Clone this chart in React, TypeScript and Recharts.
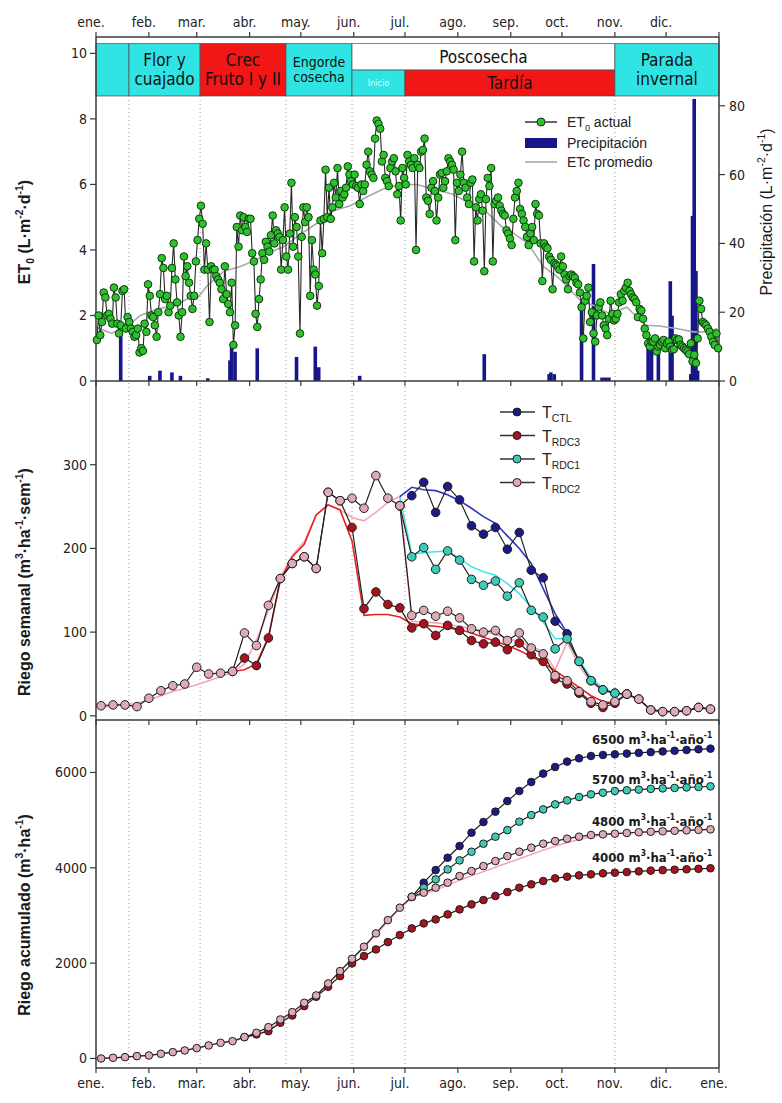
import { Bar, ComposedChart, Legend, Line, ReferenceArea, ReferenceDot, ReferenceLine, XAxis, YAxis } from "recharts"

const W = 782
const H = 1103
const NARROW = '"Liberation Sans Narrow", "Arial Narrow", "DejaVu Sans Condensed", "Liberation Sans", sans-serif'
const SANS = '"Liberation Sans", Arial, sans-serif'

const monthTicks = [0, 31, 59, 90, 120, 151, 181, 212, 243, 273, 304, 334, 365]
const monthNames = ["ene.", "feb.", "mar.", "abr.", "may.", "jun.", "jul.", "ago.", "sep.", "oct.", "nov.", "dic.", "ene."]

// phenological phases (day of year)
const phaseFrom = [0, 19.3, 61, 111.3, 150, 150, 181, 304]
const phaseTo = [19.3, 61, 111.3, 150, 304, 181, 304, 365]
const phaseName = ["", "Flor y|cuajado", "Crec|Fruto I y II", "Engorde|cosecha", "Poscosecha", "Inicio", "Tardía", "Parada|invernal"]
const phaseRow = ["full", "full", "full", "full", "top", "bottom", "bottom", "full"]
const phaseBreaks = [19.3, 61, 111.3, 150, 181, 304]

// ET0 actual, one value per day (L m-2 d-1)
const et0Daily = [
  1.25, 2.0, 1.4, 1.8, 2.7, 2.55, 2.0, 2.05, 1.9, 1.75,
  2.85, 2.55, 1.75, 1.45, 1.7, 2.75, 2.8, 1.6, 1.95, 1.8,
  1.6, 1.5, 1.35, 1.4, 1.6, 0.87, 1.0, 0.92, 1.75, 1.5,
  2.95, 2.6, 2.0, 1.95, 1.7, 1.35, 2.1, 2.65, 3.75, 3.45,
  2.5, 2.6, 2.1, 2.3, 3.45, 4.2, 3.1, 2.4, 2.0, 1.35,
  2.1, 3.8, 3.2, 3.5, 3.0, 2.6, 2.2, 2.6, 3.65, 4.3,
  4.95, 5.35, 4.8, 3.4, 4.2, 3.4, 1.8, 3.5, 3.4, 3.4,
  3.2, 3.1, 3.0, 2.8, 2.5, 3.5, 2.65, 2.35, 2.1, 3.0,
  1.1, 1.7, 4.7, 4.1, 5.05, 4.6, 5.0, 4.7, 4.55, 4.95,
  4.95, 3.9, 3.65, 2.05, 1.65, 2.5, 3.1, 3.9, 3.7, 4.25,
  4.1, 3.95, 4.45, 5.05, 4.2, 4.6, 4.5, 4.4, 3.4, 4.3,
  5.3, 3.8, 3.4, 4.5, 6.05, 4.1, 5.0, 4.7, 3.8, 1.45,
  4.4, 5.3, 4.85, 5.3, 5.0, 2.6, 4.3, 3.4, 3.25, 2.3,
  2.9, 4.9, 3.9, 4.95, 6.45, 5.0, 5.9, 4.95, 5.3, 6.05,
  5.6, 6.5, 5.4, 5.8, 5.6, 5.7, 5.9, 6.55, 6.3, 6.1,
  6.0, 6.3, 5.95, 5.9, 5.4, 6.0, 5.8, 6.0, 6.6, 7.0,
  6.4, 6.3, 6.2, 7.4, 7.95, 7.85, 7.7, 6.7, 6.9, 6.2,
  6.1, 5.95, 6.5, 6.7, 6.8, 6.4, 5.7, 5.95, 4.9, 6.5,
  6.2, 6.0, 6.9, 6.7, 6.6, 6.5, 6.8, 4.0, 6.6, 6.5,
  7.0, 7.05, 7.4, 5.6, 5.5, 5.1, 5.9, 6.1, 5.8, 4.9,
  5.6, 6.3, 6.35, 5.9, 6.1, 6.4, 6.8, 6.7, 6.6, 6.45,
  4.3, 6.05, 5.8, 6.3, 7.0, 6.05, 5.9, 5.6, 5.4, 6.05,
  6.15, 3.65, 5.3, 4.9, 5.55, 5.7, 5.2, 3.35, 5.55, 6.2,
  5.95, 6.5, 3.65, 5.4, 5.5, 5.6, 5.35, 5.2, 5.1, 5.05,
  4.6, 4.5, 4.35, 4.15, 4.95, 5.6, 5.8, 6.05, 5.25, 5.1,
  4.9, 4.7, 4.4, 4.15, 4.5, 4.7, 4.3, 5.4, 5.1, 5.05,
  4.2, 3.05, 4.2, 4.1, 4.05, 3.8, 3.7, 2.8, 3.6, 3.55,
  3.5, 3.4, 3.8, 3.5, 3.25, 3.1, 2.8, 3.2, 3.25, 3.2,
  3.15, 3.0, 2.95, 2.7, 2.25, 1.3, 2.45, 2.6, 2.85, 1.8,
  2.1, 1.45, 1.2, 2.0, 2.25, 2.4, 2.0, 1.7, 1.6, 1.4,
  1.9, 2.45, 2.05, 1.85, 1.9, 2.05, 2.4, 2.65, 2.45, 2.75,
  2.85, 3.0, 2.75, 2.65, 2.55, 2.5, 2.4, 1.95, 2.2, 2.15,
  1.9, 1.6, 1.4, 1.15, 1.05, 1.2, 1.2, 1.3, 0.9, 1.05,
  1.1, 1.2, 1.25, 1.0, 1.15, 1.2, 1.05, 0.95, 0.97, 1.3,
  1.25, 1.27, 1.1, 1.05, 1.0, 0.95, 0.9, 0.82, 1.15, 0.6,
  0.8, 0.55, 1.3, 2.45, 2.2, 1.8, 1.75, 1.7, 1.6, 1.5,
  1.35, 1.2, 1.1, 1.45, 1.0,
]

// ETc promedio
const etcDay = [0, 9, 15, 21, 26, 36, 46, 55, 59, 65, 75, 85, 94, 100, 110, 119, 129, 139, 149, 158, 168, 178, 188, 198, 209, 218, 228, 238, 245, 253, 262, 271, 284, 292, 301, 311, 322, 330, 340, 350, 358, 364]
const etcValue = [1.65, 1.45, 1.6, 1.78, 2.0, 2.2, 2.3, 2.55, 2.5, 2.9, 3.35, 3.5, 3.7, 3.9, 4.1, 4.45, 4.8, 5.2, 5.35, 5.6, 5.85, 6.0, 6.0, 5.85, 5.7, 5.45, 5.2, 4.7, 4.5, 4.2, 3.5, 3.15, 2.45, 2.3, 2.05, 2.25, 1.7, 1.68, 1.6, 1.5, 1.5, 1.6]

// Precipitación (L m-2 d-1)
const rainDay = [14, 31, 37, 44, 49, 65, 78, 79, 81, 94, 117, 128, 130, 154, 227, 265, 266, 268, 284, 291, 296, 298, 300, 323, 325, 329, 336, 337, 348, 349, 350, 351, 352]
const rainValue = [14, 1.5, 3, 2.5, 1.5, 0.8, 6, 10, 8.5, 9.5, 7, 10, 4, 1.5, 7.8, 2, 2.5, 2, 23, 34, 1, 1, 1, 11, 9, 10, 29, 19, 2, 48, 82, 32, 3]

// Riego semanal (m3 ha-1 sem-1), 52 weeks
const semCtl = [null, null, null, null, null, null, null, null, null, null, null, null, null, null, null, null, null, null, null, null, null, null, null, null, null,
  251, 263, 279, 243, 274, 258, 227, 217, 225, 199, 219, 174, 165, 113, 98, 65, 42, 31, 27, 26,
  null, null, null, null, null, null, null]
const semRdc1 = [null, null, null, null, null, null, null, null, null, null, null, null, null, null, null, null, null, null, null, null, null, null, null, null, null,
  251, 190, 201, 175, 197, 186, 163, 156, 161, 143, 159, 126, 118, 80, 92, 65, 42, 31, 27, 26,
  null, null, null, null, null, null, null]
const semRdc3 = [null, null, null, null, null, null, null, null, null, null, null,
  53, 69, 60, 93, 164, 182, 190, 176, 267, 257, 225, 128, 148, 133, 129, 105, 110, 96, 108, 102,
  90, 86, 88, 79, 87, 73, 65, 44, 38, 27, 15, 10, 15, 26, 20, 7, 5, 5, 6, 10, 8]
const semRdc2 = [12, 13, 13, 11, 21, 30, 36, 38, 58, 50, 51, 53, 99, 84, 132, 164, 182, 190, 176, 267,
  257, 260, 248, 287, 260, 251, 120, 126, 119, 125, 117, 104, 100, 102, 90, 99, 81, 74, 48, 42,
  29, 17, 13, 17, 26, 20, 7, 5, 5, 6, 10, 8]
// programmed (thin) lines
const progRdc2 = [10, 12, 13, 15, 19, 24, 29, 33, 37, 42, 47, 52, 62, 90, 126, 165, 192, 208, 240, 252,
  246, 237, 233, 243, 255, 262, 113, 112, 111, 109, 107, 104, 101, 97, 93, 88, 83, 77, 55, 88,
  60, 40, 30, 26, 24, 19, 8, 6, 6, 7, 9, 8]
const progRdc3 = [null, null, null, null, null, null, null, null, null, null, null,
  53, 55, 62, 94, 162, 190, 205, 240, 252, 246, 209, 120, 121, 121, 118, 110, 108, 107, 105, 103,
  99, 94, 89, 84, 78, 71, 63, 54, 44, 34, 24, 17, 15,
  null, null, null, null, null, null, null, null]
const progRdc1 = [null, null, null, null, null, null, null, null, null, null, null, null, null, null, null, null, null, null, null, null, null, null, null, null, null,
  262, 193, 195, 196, 197, 188, 178, 172, 168, 158, 146, 130, 112, 92, 92, 66, 46, 33, 27,
  null, null, null, null, null, null, null, null]
const progCtl = [null, null, null, null, null, null, null, null, null, null, null, null, null, null, null, null, null, null, null, null, null, null, null, null, null,
  262, 273, 270, 269, 264, 257, 248, 238, 230, 215, 200, 182, 152, 122, 99,
  null, null, null, null, null, null, null, null, null, null, null, null]

// Riego acumulado (m3 ha-1)
const accRdc2 = [0, 14, 28, 49, 63, 98, 133, 168, 217, 273, 329, 364, 448, 539, 657, 818, 972, 1168, 1322, 1574,
  1833, 2092, 2344, 2623, 2903, 3163, 3390, 3478, 3582, 3687, 3826, 3931, 4036, 4141, 4246, 4337, 4421, 4505, 4561, 4610,
  4652, 4687, 4701, 4715, 4730, 4745, 4755, 4765, 4775, 4785, 4795, 4806]
const accRdc3 = [null, null, null, null, null, null, null, null, null, null, null, null,
  448, 504, 573, 749, 902, 1098, 1294, 1504, 1727, 1994, 2147, 2287, 2441, 2588, 2728, 2833, 2917, 3022, 3127, 3232,
  3323, 3407, 3491, 3582, 3652, 3722, 3778, 3813, 3841, 3862, 3883, 3897, 3910, 3925, 3940, 3950, 3960, 3968, 3978, 3990]
const accCtl = [null, null, null, null, null, null, null, null, null, null, null, null, null, null, null, null, null, null, null, null, null, null, null, null, null, null,
  3390, 3687, 3952, 4211, 4456, 4736, 4959, 5177, 5400, 5610, 5799, 5975, 6114, 6227, 6296, 6345, 6366, 6380, 6395, 6410,
  6425, 6440, 6455, 6470, 6485, 6499]
const accRdc1 = [null, null, null, null, null, null, null, null, null, null, null, null, null, null, null, null, null, null, null, null, null, null, null, null, null, null,
  3390, 3582, 3756, 3966, 4155, 4337, 4505, 4652, 4791, 4967, 5106, 5225, 5330, 5414, 5484, 5540, 5575, 5610, 5625, 5640,
  5655, 5665, 5675, 5685, 5695, 5708]
const accProg = [0, 14, 28, 49, 63, 98, 133, 168, 217, 273, 329, 364, 430, 500, 600, 760, 940, 1140, 1320, 1560,
  1820, 2080, 2330, 2600, 2880, 3140, 3380, 3450, 3540, 3630, 3740, 3830, 3920, 4010, 4100, 4190, 4280, 4370, 4450, 4530,
  4590, 4650, 4695, 4715, 4730, 4745, 4755, 4765, 4775, 4785, 4795, 4806]

const annualTotal = [6500, 5700, 4800, 4000]
const annualLabelY = [6685, 5845, 4964, 4209]

const dailyRows = et0Daily.map((v, i) => {
  const k = rainDay.indexOf(i)
  return { d: i + 0.5, et0: v, rain: k >= 0 ? rainValue[k] : null }
})
const etcRows = etcDay.map((d, i) => ({ d, etc: etcValue[i] }))
const weekRows = semRdc2.map((_, i) => ({
  d: 3 + 7 * i,
  ctl: semCtl[i], rdc1: semRdc1[i], rdc2: semRdc2[i], rdc3: semRdc3[i],
  p2: progRdc2[i], p3: progRdc3[i], p1: progRdc1[i], pc: progCtl[i],
  actl: accCtl[i], ardc1: accRdc1[i], ardc2: accRdc2[i], ardc3: accRdc3[i], aprog: accProg[i],
}))

const C = {
  cyan: "#30E4E4", red: "#F21616", green: "#2FC02F", navy: "#16168A", ctl: "#1A1A88",
  rdc3: "#A8121C", rdc1: "#3DCBB6", rdc2: "#DDAAB6", pink: "#F6A3B6", thinRed: "#E82222",
  thinCyan: "#45E6E6", thinBlue: "#3434C4", grid: "#9A9A9A", axis: "#3A3A3A",
}

const axisLine = { stroke: C.axis, strokeWidth: 1.5 }
const tickLine = { stroke: C.axis, strokeWidth: 1.2 }
const tickText = { fontSize: 14, fill: "#222", fontFamily: NARROW }
const monthTick = { ...tickText, dx: -5 }
const noLabel = () => ""
const monthLabel = (v: number) => monthNames[monthTicks.indexOf(v)] ?? ""

type Part = { t: string; k?: "sup" | "sub" }

function spans(parts: Part[], size: number) {
  let shift = 0
  return parts.map((p, i) => {
    const target = p.k === "sup" ? -size * 0.42 : p.k === "sub" ? size * 0.28 : 0
    const dy = target - shift
    shift = target
    return (
      <tspan key={i} dy={dy} fontSize={p.k ? size * 0.65 : size}>
        {p.t}
      </tspan>
    )
  })
}

function VTitle({ px, py, parts, size = 16, weight = "bold" }: { px: number; py: number; parts: Part[]; size?: number; weight?: string }) {
  return (
    <text x={px} y={py} transform={`rotate(-90 ${px} ${py})`} textAnchor="middle" fontFamily={SANS} fontWeight={weight} fontSize={size} fill="#1a1a1a">
      {spans(parts, size)}
    </text>
  )
}

function AnnualLabel(props: any) {
  const { viewBox, parts } = props
  if (!viewBox) return null
  return (
    <text x={viewBox.x - 4} y={viewBox.y + 5} textAnchor="end" fontFamily={NARROW} fontWeight="bold" fontSize={13} fill="#1a1a1a">
      {spans(parts, 13)}
    </text>
  )
}

function BandLabel(props: any) {
  const { viewBox, lines, size, color } = props
  if (!viewBox) return null
  const cx = viewBox.x + viewBox.width / 2
  const cy = viewBox.y + viewBox.height / 2
  const lh = size * 1.1
  const y0 = cy - ((lines.length - 1) * lh) / 2 + size * 0.35
  return (
    <text textAnchor="middle" fontFamily={NARROW} fontSize={size} fill={color}>
      {lines.map((l: string, i: number) => (
        <tspan key={i} x={cx} y={y0 + i * lh}>
          {l}
        </tspan>
      ))}
    </text>
  )
}

function RainBar(props: any) {
  const { x, y, width, height } = props
  if (!height || height <= 0) return null
  return <rect x={x + width / 2 - 1.8} y={y} width={3.6} height={height} fill={C.navy} />
}

const et0Title: Part[] = [{ t: "ET" }, { t: "0", k: "sub" }, { t: " (L·m" }, { t: "-2", k: "sup" }, { t: "·d" }, { t: "-1", k: "sup" }, { t: ")" }]
const rainTitle: Part[] = [{ t: "Precipitación (L·m" }, { t: "-2", k: "sup" }, { t: "·d" }, { t: "-1", k: "sup" }, { t: ")" }]
const semTitle: Part[] = [{ t: "Riego semanal (m" }, { t: "3", k: "sup" }, { t: "·ha" }, { t: "-1", k: "sup" }, { t: "·sem" }, { t: "-1", k: "sup" }, { t: ")" }]
const accTitle: Part[] = [{ t: "Riego acumulado (m" }, { t: "3", k: "sup" }, { t: "·ha" }, { t: "-1", k: "sup" }, { t: ")" }]

function phaseStyle(name: string) {
  if (name === "Poscosecha") return { fill: "#FFFFFF", text: "#111", size: 17 }
  if (name === "Inicio") return { fill: C.cyan, text: "#F4F4F4", size: 9 }
  if (name.startsWith("Crec") || name === "Tardía") return { fill: C.red, text: "#111", size: 17 }
  if (name.startsWith("Engorde")) return { fill: C.cyan, text: "#111", size: 14 }
  return { fill: C.cyan, text: "#111", size: 17 }
}

const rowY: Record<string, [number, number]> = { full: [8.7, 10.3], top: [9.49, 10.3], bottom: [8.7, 9.49] }

function TopLegend() {
  return (
    <svg width={200} height={64}>
      <line x1={5} x2={37} y1={12} y2={12} stroke="#333" strokeWidth={1.5} />
      <circle cx={21} cy={12} r={4} fill={C.green} stroke="#0B3B0B" />
      <text x={47} y={17} fontFamily={SANS} fontSize={14} fill="#222">
        {spans([{ t: "ET" }, { t: "0", k: "sub" }, { t: " actual" }], 14)}
      </text>
      <rect x={5} y={28} width={32} height={10} fill={C.navy} />
      <text x={47} y={38} fontFamily={SANS} fontSize={14} fill="#222">Precipitación</text>
      <line x1={5} x2={37} y1={52} y2={52} stroke="#A8A8A8" strokeWidth={1.6} />
      <text x={47} y={57} fontFamily={SANS} fontSize={14} fill="#222">ETc promedio</text>
    </svg>
  )
}

const legendNames = ["CTL", "RDC3", "RDC1", "RDC2"]
const legendFills = [C.ctl, C.rdc3, C.rdc1, C.rdc2]

function WeekLegend() {
  return (
    <svg width={100} height={95}>
      {legendNames.map((n, i) => (
        <g key={n}>
          <line x1={5} x2={40} y1={12 + i * 23.5} y2={12 + i * 23.5} stroke="#333" strokeWidth={1.5} />
          <circle cx={22} cy={12 + i * 23.5} r={4} fill={legendFills[i]} stroke="#222" />
          <text x={47} y={18 + i * 23.5} fontFamily={SANS} fontSize={16} fill="#222">
            {spans([{ t: "T" }, { t: n, k: "sub" }], 16)}
          </text>
        </g>
      ))}
    </svg>
  )
}

function dot(fill: string, r = 4.3) {
  return { r, fill, stroke: "#1e1e1e", strokeWidth: 1 }
}

function TopPanel() {
  return (
    <ComposedChart width={W} height={H} data={dailyRows} margin={{ top: 0, right: 23, bottom: 702, left: 56 }}>
      <XAxis xAxisId="top" orientation="top" type="number" dataKey="d" domain={[0, 365]} ticks={monthTicks} interval={0}
        tickFormatter={(v: number) => (v >= 365 ? "" : monthLabel(v))} height={37} tickSize={5} tickMargin={5}
        axisLine={axisLine} tickLine={tickLine} tick={monthTick} />
      <XAxis xAxisId="bot" type="number" dataKey="d" domain={[0, 365]} ticks={monthTicks} interval={0}
        tickFormatter={noLabel} height={20} tickSize={5} axisLine={axisLine} tickLine={tickLine} />
      <YAxis yAxisId="l" domain={[0, 10.5]} ticks={[0, 2, 4, 6, 8, 10]} width={40} tickSize={6} tickMargin={3}
        axisLine={axisLine} tickLine={tickLine} tick={tickText}
        label={<VTitle px={30} py={232} parts={et0Title} />} />
      <YAxis yAxisId="r" orientation="right" domain={[0, 100]} ticks={[0, 20, 40, 60, 80]} width={40} tickSize={6} tickMargin={4}
        axisLine={axisLine} tickLine={tickLine} tick={tickText}
        label={<VTitle px={772} py={212} parts={rainTitle} size={16} weight="normal" />} />
      {phaseBreaks.map((b) => (
        <ReferenceLine key={b} xAxisId="bot" yAxisId="l" segment={[{ x: b, y: 0 }, { x: b, y: 8.7 }]}
          stroke={C.grid} strokeDasharray="1 3" />
      ))}
      {phaseName.map((name, i) => {
        const s = phaseStyle(name)
        const [y1, y2] = rowY[phaseRow[i]]
        return (
          <ReferenceArea key={i} xAxisId="bot" yAxisId="l" x1={phaseFrom[i]} x2={phaseTo[i]} y1={y1} y2={y2}
            fill={s.fill} fillOpacity={1} stroke="#4a4a4a" strokeWidth={0.7}
            label={<BandLabel lines={name ? name.split("|") : []} size={s.size} color={s.text} />} />
        )
      })}
      <Line xAxisId="bot" yAxisId="l" data={etcRows} dataKey="etc" stroke="#A8A8A8" strokeWidth={1.6} dot={false} isAnimationActive={false} />
      <Line xAxisId="bot" yAxisId="l" dataKey="et0" stroke="#2a2a2a" strokeWidth={1.1}
        dot={{ r: 3.8, fill: C.green, stroke: "#0B3B0B", strokeWidth: 1 }} isAnimationActive={false} />
      <Bar xAxisId="bot" yAxisId="r" dataKey="rain" fill={C.navy} barSize={3} shape={<RainBar />} isAnimationActive={false} />
      <Legend layout="vertical" align="center" verticalAlign="middle" content={() => <TopLegend />}
        wrapperStyle={{ left: 520, top: 110, width: 200, height: 64 }} />
    </ComposedChart>
  )
}

function WeeklyPanel() {
  return (
    <ComposedChart width={W} height={H} data={weekRows} margin={{ top: 381, right: 23, bottom: 363, left: 56 }}>
      <XAxis type="number" dataKey="d" domain={[0, 365]} ticks={monthTicks} interval={0} tickFormatter={noLabel}
        height={20} tickSize={5} axisLine={axisLine} tickLine={tickLine} />
      <YAxis yAxisId="l" domain={[-5, 400]} ticks={[0, 100, 200, 300]} width={40} tickSize={6} tickMargin={3}
        axisLine={axisLine} tickLine={tickLine} tick={tickText}
        label={<VTitle px={30} py={582} parts={semTitle} />} />
      <YAxis yAxisId="r" orientation="right" domain={[-5, 400]} ticks={[0, 100, 200, 300]} width={40} tickSize={6}
        tickFormatter={noLabel} axisLine={axisLine} tickLine={tickLine} />
      {phaseBreaks.map((b) => (
        <ReferenceLine key={b} yAxisId="l" x={b} stroke={C.grid} strokeDasharray="1 3" />
      ))}
      <Line yAxisId="l" dataKey="p2" stroke={C.pink} strokeWidth={1.6} dot={false} isAnimationActive={false} />
      <Line yAxisId="l" dataKey="p3" stroke={C.thinRed} strokeWidth={1.6} dot={false} isAnimationActive={false} />
      <Line yAxisId="l" dataKey="p1" stroke={C.thinCyan} strokeWidth={1.6} dot={false} isAnimationActive={false} />
      <Line yAxisId="l" dataKey="pc" stroke={C.thinBlue} strokeWidth={1.6} dot={false} isAnimationActive={false} />
      <Line yAxisId="l" dataKey="ctl" stroke="#222" strokeWidth={1.2} dot={dot(C.ctl)} isAnimationActive={false} />
      <Line yAxisId="l" dataKey="rdc1" stroke="#222" strokeWidth={1.2} dot={dot(C.rdc1)} isAnimationActive={false} />
      <Line yAxisId="l" dataKey="rdc3" stroke="#222" strokeWidth={1.2} dot={dot(C.rdc3)} isAnimationActive={false} />
      <Line yAxisId="l" dataKey="rdc2" stroke="#222" strokeWidth={1.2} dot={dot(C.rdc2)} isAnimationActive={false} />
      <Legend layout="vertical" align="center" verticalAlign="middle" content={() => <WeekLegend />}
        wrapperStyle={{ left: 495, top: 400, width: 100, height: 95 }} />
    </ComposedChart>
  )
}

function CumulativePanel() {
  const unit = (n: number): Part[] => [{ t: `${n} m` }, { t: "3", k: "sup" }, { t: "·ha" }, { t: "-1", k: "sup" }, { t: "·año" }, { t: "-1", k: "sup" }]
  return (
    <ComposedChart width={W} height={H} data={weekRows} margin={{ top: 720, right: 23, bottom: 0, left: 56 }}>
      <XAxis type="number" dataKey="d" domain={[0, 365]} ticks={monthTicks} interval={0} tickFormatter={monthLabel}
        height={35} tickSize={5} tickMargin={5} axisLine={axisLine} tickLine={tickLine} tick={monthTick} />
      <YAxis yAxisId="l" domain={[-200, 7100]} ticks={[0, 2000, 4000, 6000]} width={40} tickSize={6} tickMargin={3}
        axisLine={axisLine} tickLine={tickLine} tick={tickText}
        label={<VTitle px={30} py={915} parts={accTitle} />} />
      <YAxis yAxisId="r" orientation="right" domain={[-200, 7100]} ticks={[0, 2000, 4000, 6000]} width={40} tickSize={6}
        tickFormatter={noLabel} axisLine={axisLine} tickLine={tickLine} />
      {phaseBreaks.map((b) => (
        <ReferenceLine key={b} yAxisId="l" x={b} stroke={C.grid} strokeDasharray="1 3" />
      ))}
      <Line yAxisId="l" dataKey="aprog" stroke={C.pink} strokeWidth={1.5} dot={false} isAnimationActive={false} />
      <Line yAxisId="l" dataKey="ardc3" stroke="#222" strokeWidth={1.2} dot={dot(C.rdc3, 3.8)} isAnimationActive={false} />
      <Line yAxisId="l" dataKey="actl" stroke="#222" strokeWidth={1.2} dot={dot(C.ctl, 3.8)} isAnimationActive={false} />
      <Line yAxisId="l" dataKey="ardc1" stroke="#222" strokeWidth={1.2} dot={dot(C.rdc1, 3.8)} isAnimationActive={false} />
      <Line yAxisId="l" dataKey="ardc2" stroke="#222" strokeWidth={1.2} dot={dot(C.rdc2, 3.8)} isAnimationActive={false} />
      {annualTotal.map((n, i) => (
        <ReferenceDot key={n} yAxisId="l" x={364} y={annualLabelY[i]} r={1} fill="none" stroke="none"
          label={<AnnualLabel parts={unit(n)} />} />
      ))}
    </ComposedChart>
  )
}

export default function App() {
  return (
    <div style={{ position: "absolute", left: 0, top: 0, width: W, height: H, background: "#fff" }}>
      <div style={{ position: "absolute", left: 0, top: 0 }}>
        <TopPanel />
      </div>
      <div style={{ position: "absolute", left: 0, top: 0 }}>
        <WeeklyPanel />
      </div>
      <div style={{ position: "absolute", left: 0, top: 0 }}>
        <CumulativePanel />
      </div>
    </div>
  )
}
